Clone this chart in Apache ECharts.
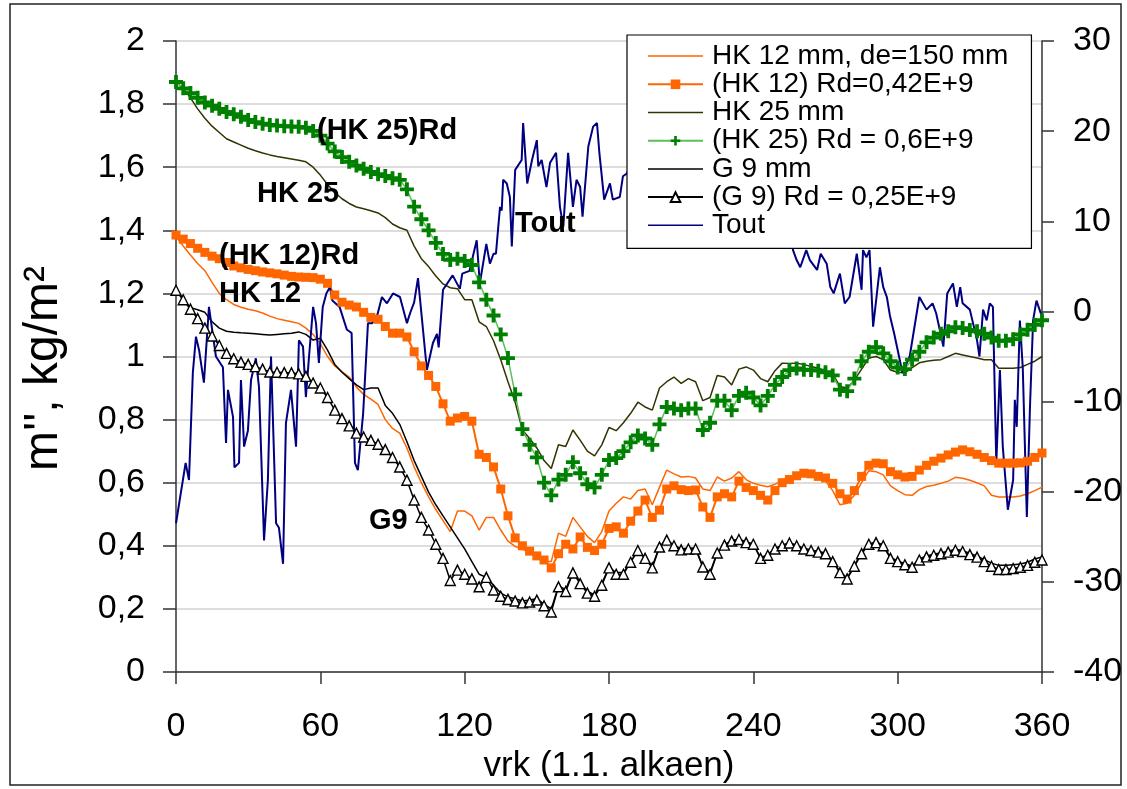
<!DOCTYPE html>
<html><head><meta charset="utf-8">
<script src="https://cdn.jsdelivr.net/npm/echarts@6/dist/echarts.min.js"></script>
<style>html,body{margin:0;padding:0;background:#fff}#c{width:1127px;height:789px}</style>
</head><body><div id="c"></div>
<script>
// x positions (days) for the m'' series
const days = [0,3,6,9,12,15,18,21,24,27,30,33,36,39,42,45,48,51,54,57,60,63,66,69,72,75,78,81,84,87,90,93,96,99,102,105,108,111,114,117,120,123,126,129,132,135,138,141,144,147,150,153,156,159,162,165,168,171,174,177,180,183,186,189,192,195,198,201,204,207,210,213,216,219,222,225,228,231,234,237,240,243,246,249,252,255,258,261,264,267,270,273,276,279,282,285,288,291,294,297,300,303,306,309,312,315,318,321,324,327,330,333,336,339,342,345,348,351,354,357,360];

const hk12 = [1.38,1.35,1.322,1.295,1.272,1.235,1.2,1.18,1.165,1.156,
1.15,1.145,1.138,1.128,1.12,1.115,1.11,1.105,1.09,1.07,
1.04,1.0,0.97,0.952,0.935,0.903,0.88,0.865,0.848,0.8,
0.772,0.757,0.71,0.65,0.6,0.555,0.515,0.48,0.445,0.51,
0.51,0.495,0.45,0.49,0.49,0.45,0.415,0.398,0.39,0.377,
0.365,0.35,0.35,0.44,0.43,0.49,0.46,0.43,0.41,0.445,
0.51,0.535,0.555,0.548,0.575,0.58,0.53,0.586,0.64,0.628,
0.618,0.62,0.615,0.58,0.575,0.618,0.605,0.615,0.635,0.61,
0.598,0.592,0.587,0.595,0.608,0.618,0.625,0.63,0.62,0.612,
0.605,0.575,0.53,0.535,0.56,0.6,0.638,0.635,0.625,0.59,
0.575,0.562,0.56,0.578,0.588,0.592,0.598,0.605,0.617,0.614,
0.608,0.6,0.59,0.56,0.555,0.555,0.555,0.558,0.565,0.575,
0.586];

const hk12Rd = [1.385,1.372,1.358,1.343,1.33,1.318,1.31,1.298,1.287,1.281,
1.276,1.272,1.268,1.265,1.262,1.258,1.254,1.252,1.251,1.25,
1.245,1.232,1.195,1.172,1.163,1.157,1.14,1.124,1.118,1.095,
1.074,1.074,1.062,1.015,0.97,0.94,0.905,0.85,0.795,0.805,
0.81,0.795,0.69,0.68,0.65,0.58,0.495,0.425,0.40,0.383,
0.368,0.355,0.33,0.375,0.405,0.39,0.428,0.395,0.385,0.405,
0.455,0.46,0.44,0.478,0.51,0.545,0.49,0.513,0.58,0.59,
0.578,0.575,0.577,0.523,0.49,0.555,0.565,0.555,0.605,0.585,
0.575,0.56,0.545,0.575,0.60,0.61,0.622,0.63,0.628,0.62,
0.615,0.598,0.565,0.548,0.575,0.62,0.655,0.662,0.66,0.635,
0.625,0.618,0.62,0.64,0.655,0.668,0.678,0.688,0.697,0.704,
0.698,0.69,0.68,0.67,0.662,0.662,0.662,0.663,0.668,0.68,
0.694];

const hk25 = [1.87,1.85,1.82,1.785,1.755,1.73,1.71,1.69,1.68,1.67,
1.66,1.652,1.645,1.639,1.634,1.63,1.626,1.622,1.617,1.60,
1.575,1.545,1.52,1.50,1.485,1.474,1.468,1.462,1.455,1.44,
1.42,1.408,1.40,1.35,1.31,1.285,1.255,1.23,1.218,1.215,
1.18,1.18,1.11,1.095,1.05,0.99,0.92,0.855,0.767,0.74,
0.71,0.67,0.645,0.72,0.715,0.767,0.735,0.70,0.685,0.72,
0.775,0.765,0.79,0.82,0.855,0.84,0.83,0.90,0.92,0.935,
0.915,0.93,0.92,0.86,0.87,0.94,0.935,0.91,0.96,0.967,
0.957,0.93,0.92,0.955,0.979,0.978,0.979,0.975,0.968,0.963,
0.955,0.945,0.905,0.9,0.925,0.96,0.995,1.0,0.99,0.957,
0.95,0.948,0.965,0.98,0.985,0.988,0.99,1.0,1.01,1.005,
1.0,0.995,0.99,0.99,0.963,0.963,0.963,0.965,0.975,0.985,
1.0];

const hk25Rd = [1.87,1.85,1.835,1.82,1.805,1.795,1.785,1.775,1.768,1.76,
1.75,1.743,1.738,1.734,1.732,1.73,1.729,1.728,1.725,1.715,
1.7,1.675,1.65,1.632,1.617,1.605,1.595,1.585,1.578,1.572,
1.565,1.56,1.53,1.475,1.435,1.40,1.36,1.325,1.306,1.31,
1.303,1.29,1.235,1.18,1.13,1.07,0.995,0.88,0.77,0.72,
0.68,0.60,0.56,0.61,0.625,0.665,0.63,0.595,0.585,0.625,
0.672,0.678,0.70,0.728,0.75,0.74,0.72,0.785,0.84,0.835,
0.83,0.835,0.835,0.767,0.79,0.86,0.86,0.83,0.875,0.885,
0.87,0.845,0.875,0.91,0.935,0.957,0.962,0.958,0.957,0.955,
0.95,0.94,0.895,0.89,0.93,0.985,1.015,1.03,1.01,0.985,
0.965,0.96,0.99,1.015,1.045,1.06,1.072,1.08,1.093,1.09,
1.084,1.08,1.072,1.06,1.05,1.05,1.055,1.07,1.085,1.1,
1.115];

const g9 = [1.21,1.18,1.155,1.148,1.14,1.11,1.09,1.08,1.077,1.075,
1.074,1.072,1.07,1.068,1.07,1.072,1.074,1.078,1.07,1.052,
1.058,1.02,0.975,0.95,0.93,0.91,0.895,0.9,0.9,0.845,
0.82,0.785,0.73,0.67,0.62,0.57,0.53,0.495,0.46,0.425,
0.39,0.35,0.31,0.30,0.275,0.25,0.238,0.232,0.225,0.228,
0.232,0.215,0.2,0.272,0.262,0.316,0.285,0.255,0.245,0.28,
0.332,0.315,0.315,0.35,0.385,0.362,0.335,0.398,0.418,0.402,
0.39,0.393,0.392,0.335,0.315,0.378,0.404,0.415,0.422,0.412,
0.406,0.362,0.372,0.392,0.402,0.41,0.402,0.392,0.387,0.382,
0.377,0.352,0.318,0.298,0.337,0.378,0.406,0.412,0.402,0.363,
0.352,0.343,0.336,0.358,0.368,0.373,0.378,0.383,0.389,0.385,
0.376,0.368,0.356,0.345,0.338,0.338,0.34,0.342,0.348,0.358,
0.365];

const g9Rd = [1.21,1.18,1.15,1.12,1.09,1.065,1.035,1.01,0.993,0.982,
0.975,0.968,0.96,0.951,0.95,0.949,0.948,0.945,0.937,0.916,
0.9,0.87,0.83,0.803,0.78,0.757,0.745,0.734,0.722,0.705,
0.68,0.65,0.608,0.545,0.49,0.45,0.405,0.36,0.29,0.323,
0.31,0.295,0.27,0.30,0.26,0.24,0.23,0.225,0.219,0.222,
0.228,0.21,0.19,0.27,0.255,0.314,0.28,0.25,0.24,0.275,
0.33,0.31,0.31,0.348,0.385,0.36,0.33,0.396,0.418,0.40,
0.387,0.39,0.39,0.333,0.31,0.377,0.402,0.415,0.42,0.41,
0.405,0.36,0.37,0.39,0.40,0.409,0.4,0.39,0.385,0.38,
0.375,0.35,0.315,0.295,0.335,0.375,0.405,0.41,0.4,0.36,
0.35,0.34,0.332,0.355,0.365,0.37,0.375,0.38,0.386,0.382,
0.372,0.364,0.35,0.335,0.325,0.325,0.328,0.332,0.338,0.348,
0.355];

// Tout (right axis, °C): [day, value]
const tout = [[0,-23.5],[4,-16.8],[5.4,-18.7],[7,-6.8],[8.3,-2.8],[9.6,-4.3],[11.6,-7.9],[13.7,0.5],[16.6,-5.0],[19.5,-6.2],
[20.8,-14.6],[21.6,-8.7],[23.7,-11.7],[24.3,-17.3],[26.2,-16.8],[27,-7.6],[28.3,-15.0],[29.9,-13.2],[31.2,-7.6],[33.2,-5.2],
[34.5,-8.4],[36.6,-25.4],[38.2,-18.7],[39.5,-5.0],[41.6,-23.5],[42.8,-24.0],[44.5,-28.0],[45.7,-12.4],[47.8,-8.7],[49.9,-15.0],
[51.1,-3.2],[52.8,-3.9],[54,-9.5],[55.3,-5.0],[57,0.5],[58.2,-1.3],[59.4,-5.7],[61,0.5],[62.5,2.0],[64,2.7],
[65,1.2],[68,0.5],[71,-2.0],[73,-2.4],[74.4,-16.8],[75.6,-17.6],[77.8,-11.3],[79.8,-1.3],[81.5,-1.3],[83.5,-0.6],
[85.6,1.6],[87.7,0.9],[90.2,2.0],[93.1,1.6],[96,-1.3],[97.3,-0.2],[99,1.0],[100.6,3.7],[104.3,-6.5],[106.8,-3.5],
[108.5,-2.5],[109.2,-4.0],[111,2.4],[115,4.0],[118,2.5],[119,4.2],[122,4.5],[125,7.9],[126.3,3.1],[129,7.5],
[130.5,5.3],[132,6.4],[133,6.4],[134.7,11.6],[135.4,11.2],[136,14.6],[137.5,14.2],[138.8,12.7],[139.6,7.2],[141,15.7],
[143.7,16.8],[144.3,20.9],[146,14.2],[148,16.8],[150,19.0],[150.6,16.1],[152,16.8],[154,13.8],[155.5,16.5],[158,17.6],
[159.6,11.6],[161,9.4],[163,17.6],[165,11.6],[166.5,14.6],[168,13.8],[169,10.5],[171.4,18.3],[173.4,20.5],[175,20.9],
[176,17.6],[178,12.4],[180.4,14.2],[181.6,12.4],[184.5,12.7],[185.8,15.0],[187.4,15.3],[190,17],[193,14],[196,18],
[199,13],[202,16],[205,19],[208,15],[211,17],[214,12],[217,16],[220,14],[223,18],[226,13],
[229,15],[232,17],[235,12],[238,14],[241,16],[244,11],[247,13],[250,10],[253,12],[256.5,6.8],
[258,5.7],[259.5,4.9],[262,6.8],[263.5,5.7],[266.5,4.6],[268,6.4],[270.5,5.3],[272,2.7],[273.4,2.0],[276,4.2],
[278,0.9],[280,1.6],[283,6.4],[285,2.4],[285.6,6.8],[287,6.0],[288.3,6.8],[289.8,-1.7],[292.6,4.9],[294,2.7],
[295.5,1.6],[296.8,-0.5],[298.5,-2.4],[302,-6.8],[305,-5.0],[309,1.6],[312,0.2],[314.5,0.9],[316,-0.2],[319,-3.9],
[320.6,2.0],[323,3.1],[324.6,0.5],[326,2.7],[327,0.9],[330,0.2],[333,-3.2],[334,-5.0],[335.5,0.2],[337,-1.0],
[338.3,0.9],[339.6,0.5],[341,-16.8],[342.5,-6.5],[343.7,-15.0],[345.8,-22.0],[348,-18.7],[348.7,-9.8],[349.5,-12.8],[350.8,-1.0],
[352,-6.2],[353.7,-22.8],[355,-10.6],[356.3,-1.0],[357.7,1.2],[360,-0.6]];

const names = ['HK 12 mm, de=150 mm','(HK 12) Rd=0,42E+9','HK 25 mm','(HK 25) Rd = 0,6E+9','G 9 mm','(G 9) Rd = 0,25E+9','Tout'];
const annotations = [
  {text:'(HK 25)Rd', x:317, y:131},
  {text:'HK 25', x:257, y:194},
  {text:'(HK 12)Rd', x:219, y:256},
  {text:'HK 12', x:219, y:294},
  {text:'Tout', x:515, y:224},
  {text:'G9', x:369, y:521}
];

const FONT = 'Liberation Sans, Arial, sans-serif';
const pair = arr => days.map((d, i) => [d, arr[i]]);
const plusPath = 'path://M4,0H7V4H11V7H7V11H4V7H0V4H4Z';
const lineIcon = 'path://M0,0H110V3H0Z';

const chart = echarts.init(document.getElementById('c'), null, {renderer:'canvas'});
const axisCol = '#333';
chart.setOption({
  animation:false,
  backgroundColor:'#fff',
  textStyle:{fontFamily:FONT},
  grid:{left:176, right:85, top:41, bottom:117, containLabel:false, outerBoundsMode:'none'},
  legend:{
    data:[
      {name:names[0], icon:lineIcon},
      {name:names[1]},
      {name:names[2], icon:lineIcon},
      {name:names[3]},
      {name:names[4], icon:lineIcon},
      {name:names[5]},
      {name:names[6], icon:lineIcon}
    ],
    orient:'vertical', left:627, top:35,
    padding:[7,23,9,20], backgroundColor:'#fff', borderColor:'#000', borderWidth:1.2,
    itemWidth:55, itemHeight:12, itemGap:0, symbolKeepAspect:true,
    textStyle:{fontSize:28, fontFamily:FONT, color:'#000', lineHeight:28.2, padding:[0,0,0,4]},
    selectedMode:false
  },
  xAxis:{
    type:'value', min:0, max:360, interval:60,
    axisLine:{show:true, onZero:false, lineStyle:{color:axisCol, width:1.5}},
    axisTick:{show:true, inside:false, length:12, lineStyle:{color:axisCol, width:1.5}},
    axisLabel:{fontSize:34, color:'#000', margin:38, fontFamily:FONT},
    splitLine:{show:false},
    name:'vrk (1.1. alkaen)', nameLocation:'middle', nameGap:61,
    nameTextStyle:{fontSize:35, color:'#000', fontFamily:FONT}
  },
  yAxis:[{
    type:'value', min:0, max:2, interval:0.2, position:'left',
    axisLine:{show:true, lineStyle:{color:axisCol, width:1.5}},
    axisTick:{show:true, inside:false, length:13, lineStyle:{color:axisCol, width:1.5}},
    axisLabel:{fontSize:34, color:'#000', margin:31, fontFamily:FONT,
      formatter:v => String(Math.round(v*10)/10).replace('.', ',')},
    splitLine:{show:true, lineStyle:{color:'#d2d2d2', width:1.5}},
    name:"m'', kg/m²", nameLocation:'middle', nameRotate:90, nameGap:108,
    nameTextStyle:{fontSize:48, color:'#000', fontFamily:FONT, padding:[0,24,0,0]}
  },{
    type:'value', min:-40, max:30, interval:10, position:'right',
    axisLine:{show:true, lineStyle:{color:axisCol, width:1.5}},
    axisTick:{show:true, inside:false, length:12, lineStyle:{color:axisCol, width:1.5}},
    axisLabel:{fontSize:34, color:'#000', margin:31, fontFamily:FONT},
    splitLine:{show:false}
  }],
  graphic:[
    {type:'rect', shape:{x:10, y:4, width:1111, height:781}, style:{fill:null, stroke:'#222', lineWidth:1.5}, silent:true, z:-1}
  ].concat(annotations.map(a => ({
    type:'text', x:a.x, y:a.y, z:100,
    style:{text:a.text, font:'bold 29px ' + FONT, fill:'#000', textVerticalAlign:'middle', textAlign:'left'}
  }))),
  series:[
    {name:names[0], type:'line', data:pair(hk12), yAxisIndex:0, symbol:'none',
     lineStyle:{color:'#FF6600', width:1.5}, itemStyle:{color:'#FF6600'}},
    {name:names[1], type:'line', data:pair(hk12Rd), yAxisIndex:0, symbol:'rect', symbolSize:9, showAllSymbol:true,
     lineStyle:{color:'#FF6600', width:2}, itemStyle:{color:'#FF6600'}},
    {name:names[2], type:'line', data:pair(hk25), yAxisIndex:0, symbol:'none',
     lineStyle:{color:'#333300', width:1.5}, itemStyle:{color:'#333300'}},
    {name:names[3], type:'line', data:pair(hk25Rd), yAxisIndex:0, symbol:plusPath, symbolSize:14, showAllSymbol:true,
     lineStyle:{color:'#5cbf5c', width:1.5}, itemStyle:{color:'#008000'}},
    {name:names[4], type:'line', data:pair(g9), yAxisIndex:0, symbol:'none',
     lineStyle:{color:'#000', width:1.5}, itemStyle:{color:'#000'}},
    {name:names[5], type:'line', data:pair(g9Rd), yAxisIndex:0, symbol:'triangle', symbolSize:10, showAllSymbol:true,
     lineStyle:{color:'#000', width:1.5}, itemStyle:{color:'#fff', borderColor:'#000', borderWidth:1.4}},
    {name:names[6], type:'line', data:tout, yAxisIndex:1, symbol:'none',
     lineStyle:{color:'#000080', width:2}, itemStyle:{color:'#000080'}}
  ]
});
</script></body></html>
